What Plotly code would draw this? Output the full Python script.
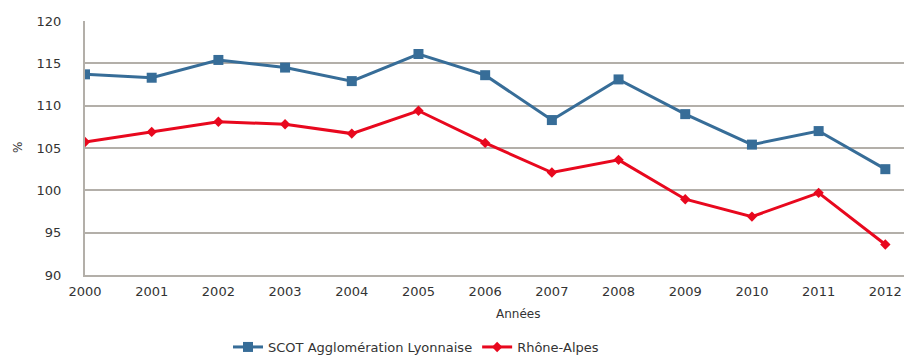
import plotly.graph_objects as go

# Indice annuel (%) par territoire
years = [2000, 2001, 2002, 2003, 2004, 2005, 2006, 2007, 2008, 2009, 2010, 2011, 2012]
scot_lyon = [113.7, 113.3, 115.4, 114.5, 112.9, 116.1, 113.6, 108.3, 113.1, 109.0, 105.4, 107.0, 102.5]
rhone_alpes = [105.7, 106.9, 108.1, 107.8, 106.7, 109.4, 105.6, 102.1, 103.6, 98.95, 96.9, 99.7, 93.6]

y_ticks = [90, 95, 100, 105, 110, 115, 120]

BLUE = "#376d98"
RED = "#e8081e"
GRID = "#b3afa9"
TEXT = "#333333"
FONT = "DejaVu Sans"

PLOT_L, PLOT_T, PLOT_B = 85, 21, 275
PLOT_W = 904 - PLOT_L
PLOT_H = PLOT_B - PLOT_T

fig = go.Figure()
fig.add_trace(go.Scatter(
    x=years, y=scot_lyon, name="SCOT Agglomération Lyonnaise",
    mode="lines+markers",
    line=dict(color=BLUE, width=3),
    marker=dict(symbol="square", size=10, color=BLUE),
))
fig.add_trace(go.Scatter(
    x=years, y=rhone_alpes, name="Rhône-Alpes",
    mode="lines+markers",
    line=dict(color=RED, width=3),
    marker=dict(symbol="diamond", size=8, color=RED),
))

fig.update_layout(
    width=904, height=358,
    margin=dict(l=PLOT_L, r=0, t=PLOT_T, b=358 - PLOT_B, autoexpand=False),
    paper_bgcolor="white", plot_bgcolor="white",
    font=dict(family=FONT, size=13, color=TEXT),
    showlegend=True,
    legend=dict(
        orientation="h", x=(416 - PLOT_L) / PLOT_W, y=(PLOT_B - 347) / PLOT_H,
        xanchor="center", yanchor="middle",
        font=dict(family=FONT, size=13, color=TEXT),
        itemwidth=30, tracegroupgap=0,
    ),
    xaxis=dict(
        range=[2000, 2012.28], tickvals=years, ticktext=[str(y) for y in years],
        showgrid=False, zeroline=False,
        showline=True, linecolor=GRID, linewidth=2,
        ticks="outside", ticklen=3, tickcolor="rgba(0,0,0,0)",
        tickfont=dict(size=13, color=TEXT),
    ),
    yaxis=dict(
        range=[90, 120], tickvals=y_ticks,
        showgrid=True, gridcolor=GRID, gridwidth=2, zeroline=False,
        showline=True, linecolor=GRID, linewidth=2,
        ticks="outside", ticklen=19, tickcolor="rgba(0,0,0,0)",
        tickfont=dict(size=13, color=TEXT),
    ),
    annotations=[
        dict(text="%", x=(18 - PLOT_L) / PLOT_W, y=(PLOT_B - 148) / PLOT_H,
             xref="paper", yref="paper", showarrow=False, textangle=-90,
             xanchor="center", yanchor="middle", font=dict(size=12, color=TEXT)),
        dict(text="Années", x=(518 - PLOT_L) / PLOT_W, y=(PLOT_B - 314) / PLOT_H,
             xref="paper", yref="paper", showarrow=False,
             xanchor="center", yanchor="middle", font=dict(size=12, color=TEXT)),
    ],
)

fig.write_html("out.html")
